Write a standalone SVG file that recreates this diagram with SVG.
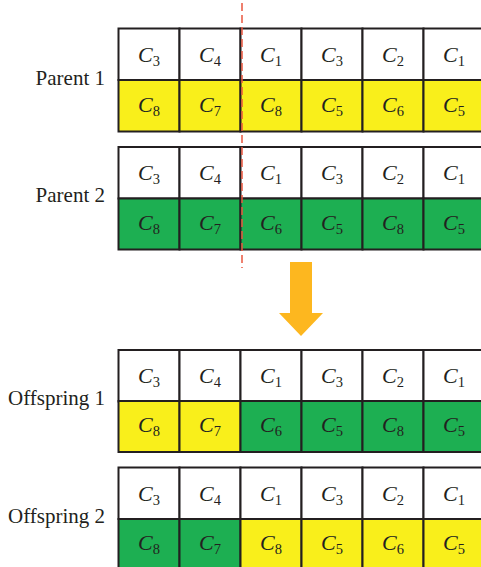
<svg xmlns="http://www.w3.org/2000/svg" width="481" height="567" viewBox="0 0 481 567">
<style>
.w{fill:#ffffff}
.y{fill:#F9EF1B}
.g{fill:#1DAF52}
.cell{stroke:#231F20;stroke-width:2}
.lbl{font-family:"Liberation Serif",serif;font-size:21px;fill:#231F20;text-anchor:end}
.c{font-family:"Liberation Serif",serif;font-size:22px;fill:#231F20;text-anchor:middle}
.c .i{font-style:italic}
.c .s{font-size:14.5px}
</style>
<defs>
<g id="top">
<rect class="w cell" x="118.5" y="0" width="61" height="51.5"/>
<rect class="w cell" x="179.5" y="0" width="61" height="51.5"/>
<rect class="w cell" x="240.5" y="0" width="61" height="51.5"/>
<rect class="w cell" x="301.5" y="0" width="61" height="51.5"/>
<rect class="w cell" x="362.5" y="0" width="61" height="51.5"/>
<rect class="w cell" x="423.5" y="0" width="61" height="51.5"/>
<text class="c" x="149" y="33"><tspan class="i">C</tspan><tspan class="s" dy="4">3</tspan></text>
<text class="c" x="210" y="33"><tspan class="i">C</tspan><tspan class="s" dy="4">4</tspan></text>
<text class="c" x="271" y="33"><tspan class="i">C</tspan><tspan class="s" dy="4">1</tspan></text>
<text class="c" x="332" y="33"><tspan class="i">C</tspan><tspan class="s" dy="4">3</tspan></text>
<text class="c" x="393" y="33"><tspan class="i">C</tspan><tspan class="s" dy="4">2</tspan></text>
<text class="c" x="454" y="33"><tspan class="i">C</tspan><tspan class="s" dy="4">1</tspan></text>
</g>
</defs>

<g id="parent1">
<text class="lbl" x="105" y="85">Parent 1</text>
<use href="#top" y="28.5"/>
<rect class="y cell" x="118.5" y="80" width="61" height="51.5"/>
<rect class="y cell" x="179.5" y="80" width="61" height="51.5"/>
<rect class="y cell" x="240.5" y="80" width="61" height="51.5"/>
<rect class="y cell" x="301.5" y="80" width="61" height="51.5"/>
<rect class="y cell" x="362.5" y="80" width="61" height="51.5"/>
<rect class="y cell" x="423.5" y="80" width="61" height="51.5"/>
<text class="c" x="149" y="112"><tspan class="i">C</tspan><tspan class="s" dy="4">8</tspan></text>
<text class="c" x="210" y="112"><tspan class="i">C</tspan><tspan class="s" dy="4">7</tspan></text>
<text class="c" x="271" y="112"><tspan class="i">C</tspan><tspan class="s" dy="4">8</tspan></text>
<text class="c" x="332" y="112"><tspan class="i">C</tspan><tspan class="s" dy="4">5</tspan></text>
<text class="c" x="393" y="112"><tspan class="i">C</tspan><tspan class="s" dy="4">6</tspan></text>
<text class="c" x="454" y="112"><tspan class="i">C</tspan><tspan class="s" dy="4">5</tspan></text>
</g>

<g id="parent2">
<text class="lbl" x="105" y="202">Parent 2</text>
<use href="#top" y="147"/>
<rect class="g cell" x="118.5" y="198.5" width="61" height="51"/>
<rect class="g cell" x="179.5" y="198.5" width="61" height="51"/>
<rect class="g cell" x="240.5" y="198.5" width="61" height="51"/>
<rect class="g cell" x="301.5" y="198.5" width="61" height="51"/>
<rect class="g cell" x="362.5" y="198.5" width="61" height="51"/>
<rect class="g cell" x="423.5" y="198.5" width="61" height="51"/>
<text class="c" x="149" y="230"><tspan class="i">C</tspan><tspan class="s" dy="4">8</tspan></text>
<text class="c" x="210" y="230"><tspan class="i">C</tspan><tspan class="s" dy="4">7</tspan></text>
<text class="c" x="271" y="230"><tspan class="i">C</tspan><tspan class="s" dy="4">6</tspan></text>
<text class="c" x="332" y="230"><tspan class="i">C</tspan><tspan class="s" dy="4">5</tspan></text>
<text class="c" x="393" y="230"><tspan class="i">C</tspan><tspan class="s" dy="4">8</tspan></text>
<text class="c" x="454" y="230"><tspan class="i">C</tspan><tspan class="s" dy="4">5</tspan></text>
</g>

<g id="offspring1">
<text class="lbl" x="105" y="405">Offspring 1</text>
<use href="#top" y="350"/>
<rect class="y cell" x="118.5" y="401" width="61" height="51"/>
<rect class="y cell" x="179.5" y="401" width="61" height="51"/>
<rect class="g cell" x="240.5" y="401" width="61" height="51"/>
<rect class="g cell" x="301.5" y="401" width="61" height="51"/>
<rect class="g cell" x="362.5" y="401" width="61" height="51"/>
<rect class="g cell" x="423.5" y="401" width="61" height="51"/>
<text class="c" x="149" y="432"><tspan class="i">C</tspan><tspan class="s" dy="4">8</tspan></text>
<text class="c" x="210" y="432"><tspan class="i">C</tspan><tspan class="s" dy="4">7</tspan></text>
<text class="c" x="271" y="432"><tspan class="i">C</tspan><tspan class="s" dy="4">6</tspan></text>
<text class="c" x="332" y="432"><tspan class="i">C</tspan><tspan class="s" dy="4">5</tspan></text>
<text class="c" x="393" y="432"><tspan class="i">C</tspan><tspan class="s" dy="4">8</tspan></text>
<text class="c" x="454" y="432"><tspan class="i">C</tspan><tspan class="s" dy="4">5</tspan></text>
</g>

<g id="offspring2">
<text class="lbl" x="105" y="523">Offspring 2</text>
<use href="#top" y="467.5"/>
<rect class="g cell" x="118.5" y="519" width="61" height="51"/>
<rect class="g cell" x="179.5" y="519" width="61" height="51"/>
<rect class="y cell" x="240.5" y="519" width="61" height="51"/>
<rect class="y cell" x="301.5" y="519" width="61" height="51"/>
<rect class="y cell" x="362.5" y="519" width="61" height="51"/>
<rect class="y cell" x="423.5" y="519" width="61" height="51"/>
<text class="c" x="149" y="550"><tspan class="i">C</tspan><tspan class="s" dy="4">8</tspan></text>
<text class="c" x="210" y="550"><tspan class="i">C</tspan><tspan class="s" dy="4">7</tspan></text>
<text class="c" x="271" y="550"><tspan class="i">C</tspan><tspan class="s" dy="4">8</tspan></text>
<text class="c" x="332" y="550"><tspan class="i">C</tspan><tspan class="s" dy="4">5</tspan></text>
<text class="c" x="393" y="550"><tspan class="i">C</tspan><tspan class="s" dy="4">6</tspan></text>
<text class="c" x="454" y="550"><tspan class="i">C</tspan><tspan class="s" dy="4">5</tspan></text>
</g>

<g id="connectors">
<line x1="242" y1="3" x2="242" y2="268" stroke="#E9573F" stroke-width="1.5" stroke-dasharray="8 4"/>
<polygon points="290,262 312,262 312,313 323,313 301,336 279,313 290,313" fill="#FDB71F"/>
</g>
</svg>
